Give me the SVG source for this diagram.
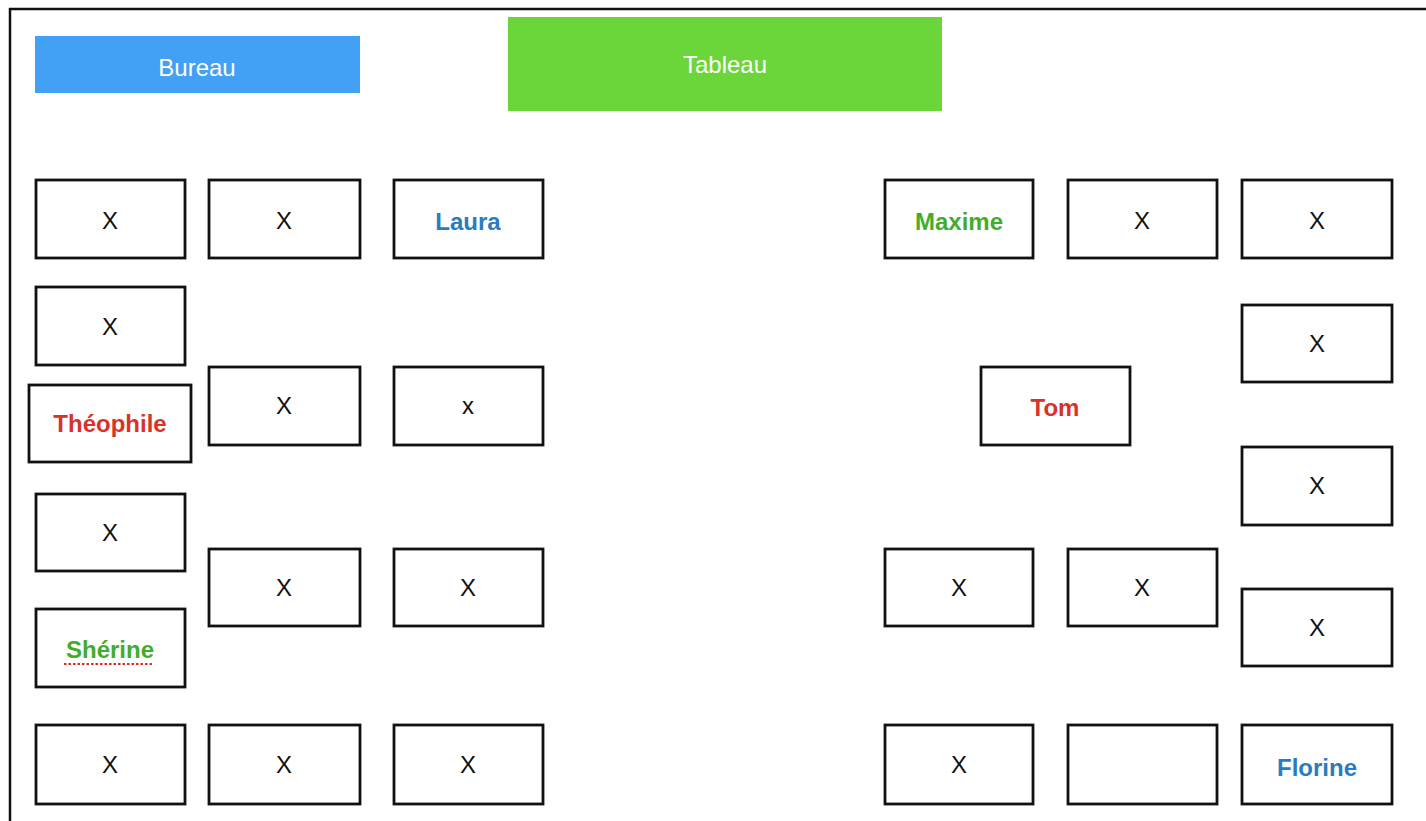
<svg xmlns="http://www.w3.org/2000/svg" width="1426" height="821" viewBox="0 0 1426 821">
<style>
.seat{fill:#fff;stroke:#111;stroke-width:2.8}
.t{font-family:"Liberation Sans",Arial,sans-serif;font-size:24px;text-anchor:middle;fill:#111}
.n{font-weight:bold}
.blue{fill:#2b7bc2}
.red{fill:#d8322b}
.green{fill:#42ad2b}
.hdr{fill:#fff}
</style>
<rect width="1426" height="821" fill="#fff"/>
<g id="frame" stroke="#111" stroke-width="2.5" fill="none">
<line x1="9" y1="9" x2="1426" y2="9"/>
<line x1="10" y1="8" x2="10" y2="821"/>
</g>
<g id="bureau"><rect x="35" y="36" width="325" height="57" fill="#42a0f5"/><text class="t hdr" x="197" y="76">Bureau</text></g>
<g id="tableau"><rect x="508" y="17" width="434" height="94" fill="#6bd63a"/><text class="t hdr" x="725" y="73">Tableau</text></g>
<g id="connectors"></g>
<g id="l1"><rect class="seat" x="36" y="180" width="149" height="78"/><text class="t" x="110" y="229">X</text></g>
<g id="l2"><rect class="seat" x="209" y="180" width="151" height="78"/><text class="t" x="284" y="229">X</text></g>
<g id="laura"><rect class="seat" x="394" y="180" width="149" height="78"/><text class="t n blue" x="468" y="230">Laura</text></g>
<g id="l4"><rect class="seat" x="36" y="287" width="149" height="78"/><text class="t" x="110" y="335">X</text></g>
<g id="theophile"><rect class="seat" x="29" y="385" width="162" height="77"/><text class="t n red" x="110" y="432">Théophile</text></g>
<g id="l6"><rect class="seat" x="209" y="367" width="151" height="78"/><text class="t" x="284" y="414">X</text></g>
<g id="l7"><rect class="seat" x="394" y="367" width="149" height="78"/><text class="t" x="468" y="414">x</text></g>
<g id="l8"><rect class="seat" x="36" y="494" width="149" height="77"/><text class="t" x="110" y="541">X</text></g>
<g id="l9"><rect class="seat" x="209" y="549" width="151" height="77"/><text class="t" x="284" y="596">X</text></g>
<g id="l10"><rect class="seat" x="394" y="549" width="149" height="77"/><text class="t" x="468" y="596">X</text></g>
<g id="sherine"><rect class="seat" x="36" y="609" width="149" height="78"/><text class="t n green" x="110" y="658">Shérine</text><line x1="64" y1="664" x2="154" y2="664" stroke="#e02a20" stroke-width="2" stroke-dasharray="2.5 2"/></g>
<g id="l12"><rect class="seat" x="36" y="725" width="149" height="79"/><text class="t" x="110" y="773">X</text></g>
<g id="l13"><rect class="seat" x="209" y="725" width="151" height="79"/><text class="t" x="284" y="773">X</text></g>
<g id="l14"><rect class="seat" x="394" y="725" width="149" height="79"/><text class="t" x="468" y="773">X</text></g>
<g id="maxime"><rect class="seat" x="885" y="180" width="148" height="78"/><text class="t n green" x="959" y="230">Maxime</text></g>
<g id="r2"><rect class="seat" x="1068" y="180" width="149" height="78"/><text class="t" x="1142" y="229">X</text></g>
<g id="r3"><rect class="seat" x="1242" y="180" width="150" height="78"/><text class="t" x="1317" y="229">X</text></g>
<g id="r4"><rect class="seat" x="1242" y="305" width="150" height="77"/><text class="t" x="1317" y="352">X</text></g>
<g id="tom"><rect class="seat" x="981" y="367" width="149" height="78"/><text class="t n red" x="1055" y="416">Tom</text></g>
<g id="r6"><rect class="seat" x="1242" y="447" width="150" height="78"/><text class="t" x="1317" y="494">X</text></g>
<g id="r7"><rect class="seat" x="885" y="549" width="148" height="77"/><text class="t" x="959" y="596">X</text></g>
<g id="r8"><rect class="seat" x="1068" y="549" width="149" height="77"/><text class="t" x="1142" y="596">X</text></g>
<g id="r9"><rect class="seat" x="1242" y="589" width="150" height="77"/><text class="t" x="1317" y="636">X</text></g>
<g id="r10"><rect class="seat" x="885" y="725" width="148" height="79"/><text class="t" x="959" y="773">X</text></g>
<g id="r11"><rect class="seat" x="1068" y="725" width="149" height="79"/></g>
<g id="florine"><rect class="seat" x="1242" y="725" width="150" height="79"/><text class="t n blue" x="1317" y="776">Florine</text></g>
</svg>
